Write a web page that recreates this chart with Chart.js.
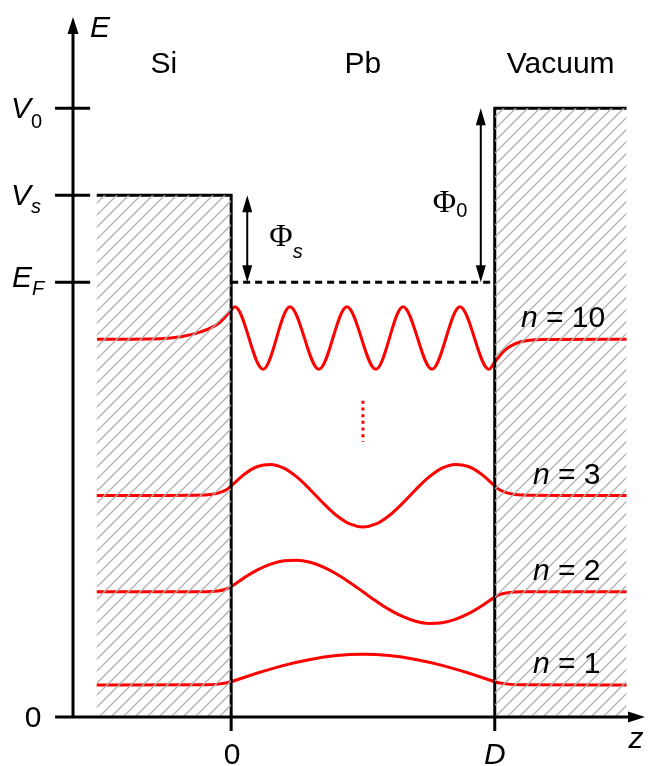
<!DOCTYPE html>
<html>
<head>
<meta charset="utf-8">
<script src="https://cdn.jsdelivr.net/npm/chart.js@4/dist/chart.umd.min.js"></script>
<style>
  html, body { margin: 0; padding: 0; background: #fff; }
  #wrap { width: 664px; height: 766px; }
</style>
</head>
<body>
<div id="wrap"><canvas id="wellChart" width="664" height="766"></canvas></div>
<script>
// z in units of the film thickness D, energy in arbitrary units (E_F = 5)
var regionNames = ['Si', 'Pb', 'Vacuum'];
var regionCenters = [-0.255, 0.5, 1.25];
var levelNames = ['V0', 'Vs', 'EF'];
var levelValues = [7, 6, 5];
var wellEdges = [0, 1];
var zLabels = ['0', 'D'];
var hatchLeft = -0.51;
var hatchRight = 1.5;

var n1Z = [-0.51, -0.1, -0.05, -0.02, 0, 0.1, 0.2, 0.3, 0.4, 0.5, 0.6, 0.7, 0.8, 0.9, 1, 1.02, 1.05, 1.1, 1.5];
var n1E = [0.368, 0.371, 0.378, 0.39, 0.406, 0.506, 0.594, 0.662, 0.706, 0.721, 0.706, 0.662, 0.594, 0.506,
           0.406, 0.39, 0.378, 0.371, 0.368];

var n2Z = [-0.51, -0.1, -0.05, -0.02, 0, 0.05, 0.1, 0.15, 0.2, 0.25, 0.3, 0.35, 0.4, 0.45, 0.5,
           0.55, 0.6, 0.65, 0.7, 0.75, 0.8, 0.85, 0.9, 0.95, 1, 1.02, 1.05, 1.1, 1.5];
var n2E = [1.44, 1.441, 1.45, 1.469, 1.50, 1.603, 1.692, 1.758, 1.797, 1.804, 1.779, 1.724, 1.645, 1.547, 1.44,
           1.333, 1.235, 1.156, 1.101, 1.076, 1.083, 1.122, 1.188, 1.277, 1.379, 1.41, 1.43, 1.439, 1.44];

var n3Z = [-0.51, -0.1, -0.05, -0.02, 0, 0.05, 0.1, 0.15, 0.2, 0.25, 0.3, 0.35, 0.4, 0.45, 0.5,
           0.55, 0.6, 0.65, 0.7, 0.75, 0.8, 0.85, 0.9, 0.95, 1, 1.02, 1.05, 1.1, 1.5];
var n3E = [2.546, 2.553, 2.575, 2.61, 2.657, 2.792, 2.881, 2.905, 2.862, 2.758, 2.614, 2.457, 2.317, 2.22, 2.186,
           2.22, 2.317, 2.457, 2.614, 2.758, 2.862, 2.905, 2.881, 2.792, 2.657, 2.61, 2.575, 2.553, 2.546];

var n10Z = [-0.509, -0.27, -0.118, -0.042, 0, 0.014, 0.121, 0.223, 0.333, 0.439, 0.549,
            0.652, 0.762, 0.868, 0.978, 1.0, 1.039, 1.096, 1.19, 1.5];
var n10E = [4.345, 4.351, 4.426, 4.54, 4.68, 4.718, 3.998, 4.718, 3.998, 4.718, 3.998,
            4.718, 3.998, 4.718, 3.998, 4.082, 4.22, 4.312, 4.341, 4.345];

var stateNames = ['10', '3', '2', '1'];
var stateBaselines = [4.345, 2.546, 1.44, 0.368];

var dotsZ = [0.5, 0.5];
var dotsE = [3.637, 3.166];

var phiNames = ['s', '0'];
var phiZ = [0.061, 0.947];
var phiFrom = [5, 5];
var phiTo = [6, 7];

function pts(zs, es) {
    return zs.map(function (z, i) { return { x: z, y: es[i] }; });
}

function hatchPattern() {
    var c = document.createElement('canvas');
    c.width = 12;
    c.height = 12;
    var g = c.getContext('2d');
    g.strokeStyle = '#b0b0b0';
    g.lineWidth = 1.3;
    g.beginPath();
    g.moveTo(-6, 6); g.lineTo(6, -6);
    g.moveTo(0, 12); g.lineTo(12, 0);
    g.moveTo(6, 18); g.lineTo(18, 6);
    g.stroke();
    return document.getElementById('wellChart').getContext('2d').createPattern(c, 'repeat');
}

var hatch = hatchPattern();
var RED = 'rgb(255,0,0)';
var SANS = '"Liberation Sans", Arial, sans-serif';
var SERIF = '"Liberation Serif", "Times New Roman", serif';

function arrowHead(ctx, x, y, dx, dy, len, half) {
    var px = -dy, py = dx;
    ctx.beginPath();
    ctx.moveTo(x, y);
    ctx.lineTo(x - dx * len + px * half, y - dy * len + py * half);
    ctx.lineTo(x - dx * len - px * half, y - dy * len - py * half);
    ctx.closePath();
    ctx.fill();
}

// draws text pieces one after another: [text, font, dy]
function runs(ctx, x, y, parts) {
    parts.forEach(function (p) {
        ctx.font = p[1];
        ctx.fillText(p[0], x, y + (p[2] || 0));
        x += ctx.measureText(p[0]).width;
    });
}

var decorations = {
    id: 'decorations',
    afterDatasetsDraw: function (chart) {
        var ctx = chart.ctx;
        var xs = chart.scales.x, ys = chart.scales.y;
        var X = function (v) { return xs.getPixelForValue(v); };
        var Y = function (v) { return ys.getPixelForValue(v); };
        ctx.save();
        ctx.strokeStyle = '#000';
        ctx.fillStyle = '#000';

        // axes
        var x0 = X(-0.6), y0 = Y(0);
        ctx.lineWidth = 3;
        ctx.beginPath();
        ctx.moveTo(X(-0.668), y0); ctx.lineTo(X(1.57) - 12, y0);
        ctx.moveTo(x0, y0); ctx.lineTo(x0, Y(8.05) + 12);
        levelValues.forEach(function (v) {
            ctx.moveTo(X(-0.668), Y(v)); ctx.lineTo(X(-0.535), Y(v));
        });
        ctx.stroke();
        arrowHead(ctx, X(1.57), y0, 1, 0, 17, 5.5);
        arrowHead(ctx, x0, Y(8.05), 0, -1, 17, 5.5);

        // work function arrows
        ctx.lineWidth = 2;
        phiZ.forEach(function (z, i) {
            var x = X(z), a = Y(phiTo[i]), b = Y(phiFrom[i]);
            ctx.beginPath();
            ctx.moveTo(x, a + 12); ctx.lineTo(x, b - 12);
            ctx.stroke();
            arrowHead(ctx, x, a, 0, -1, 17, 5);
            arrowHead(ctx, x, b, 0, 1, 17, 5);
        });

        ctx.textBaseline = 'alphabetic';
        ctx.textAlign = 'center';
        ctx.font = '30px ' + SANS;
        regionNames.forEach(function (t, i) {
            ctx.fillText(t, X(regionCenters[i]), 73);
        });
        ctx.font = 'italic 30px ' + SANS;
        ctx.fillText('E', 100, 37);
        ctx.fillText('z', 636, 748);
        ctx.font = '30px ' + SANS;
        ctx.fillText('0', 33, Y(0) + 10);
        zLabels.forEach(function (t, i) {
            ctx.font = (t === 'D' ? 'italic ' : '') + '30px ' + SANS;
            ctx.fillText(t, X(wellEdges[i]) + (t === 'D' ? 0 : 1), 764);
        });

        ctx.textAlign = 'left';
        var sub = '20px ' + SANS, isub = 'italic 20px ' + SANS, big = 'italic 30px ' + SANS;
        runs(ctx, 11, Y(levelValues[0]) + 10, [['V', big], ['0', sub, 10]]);
        runs(ctx, 11, Y(levelValues[1]) + 10, [['V', big], ['s', isub, 8]]);
        runs(ctx, 12, Y(levelValues[2]) + 5, [['E', big], ['F', isub, 8]]);

        runs(ctx, X(phiZ[0]) + 22, Y(5.5) + 7, [['\u03A6', '32px ' + SERIF], [phiNames[0], isub, 12]]);
        runs(ctx, X(phiZ[1]) - 48, Y(6) + 17, [['\u03A6', '32px ' + SERIF], [phiNames[1], sub, 5]]);

        stateNames.forEach(function (t, i) {
            var x = t.length > 1 ? 521 : 533;
            runs(ctx, x, Y(stateBaselines[i]) - 12, [['n', big], [' = ' + t, '30px ' + SANS]]);
        });
        ctx.restore();
    }
};

var lineDefaults = { showLine: true, pointRadius: 0, pointHoverRadius: 0, fill: false, clip: false };

function line(data, color, width, extra) {
    return Object.assign({}, lineDefaults, { data: data, borderColor: color, borderWidth: width }, extra || {});
}

var wave = { cubicInterpolationMode: 'monotone', borderCapStyle: 'butt' };

var chart = new Chart(document.getElementById('wellChart'), {
    type: 'scatter',
    data: {
        datasets: [
            line(pts([hatchLeft, wellEdges[0]], [levelValues[1], levelValues[1]]), 'rgba(0,0,0,0)', 0,
                { fill: 'origin', backgroundColor: hatch }),
            line(pts([wellEdges[1], hatchRight], [levelValues[0], levelValues[0]]), 'rgba(0,0,0,0)', 0,
                { fill: 'origin', backgroundColor: hatch }),
            line(pts([hatchLeft, wellEdges[0], wellEdges[0]], [levelValues[1], levelValues[1], -0.16]), '#000', 3,
                { borderJoinStyle: 'miter' }),
            line(pts([hatchRight, wellEdges[1], wellEdges[1]], [levelValues[0], levelValues[0], -0.16]), '#000', 3,
                { borderJoinStyle: 'miter' }),
            line(pts(wellEdges, [levelValues[2], levelValues[2]]), '#000', 3, { borderDash: [7, 5] }),
            line(pts(n1Z, n1E), RED, 3, wave),
            line(pts(n2Z, n2E), RED, 3, wave),
            line(pts(n3Z, n3E), RED, 3, wave),
            line(pts(n10Z, n10E), RED, 3, wave),
            line(pts(dotsZ, dotsE), RED, 3, { borderDash: [3, 3.7] })
        ]
    },
    options: {
        responsive: false,
        animation: false,
        layout: { padding: { left: 73, right: 19, top: 17, bottom: 49 } },
        plugins: { legend: { display: false }, tooltip: { enabled: false } },
        scales: {
            x: { type: 'linear', min: -0.6, max: 1.57, display: false },
            y: { type: 'linear', min: 0, max: 8.05, display: false }
        }
    },
    plugins: [decorations]
});
</script>
</body>
</html>
